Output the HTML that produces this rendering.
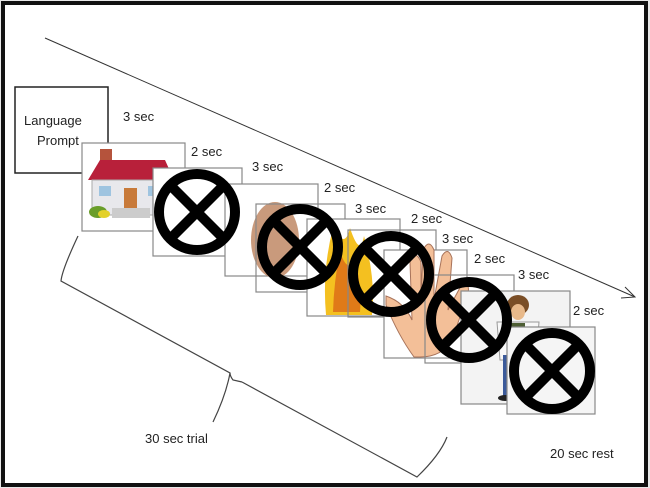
<!DOCTYPE html>
<html><head><meta charset="utf-8"><style>
html,body{margin:0;padding:0;background:#fff;}
svg{display:block;}
text{font-family:"Liberation Sans",sans-serif;font-size:13px;fill:#222;}
</style></head><body>
<svg width="650" height="488" viewBox="0 0 650 488" xmlns="http://www.w3.org/2000/svg">
<rect x="0" y="0" width="650" height="488" fill="#e8e8e8"/>
<rect x="3" y="3" width="643" height="482" fill="#fff" stroke="#111" stroke-width="4"/>
<line x1="45" y1="38" x2="635" y2="297" stroke="#333" stroke-width="1"/>
<polyline points="625,287 635,297 621,298" fill="none" stroke="#333" stroke-width="1"/>
<path d="M78,236 Q62,270 61,281 L230,373 Q226,395 213,422 M242,382 L417,477 Q440,455 447,437" fill="none" stroke="#444" stroke-width="1.2"/>
<path d="M230,373 Q230,376 233,380 L242,382" fill="none" stroke="#444" stroke-width="1.2"/>
<rect x="15" y="87" width="93" height="86" fill="#fff" stroke="#222" stroke-width="1.5"/>
<text x="24" y="125" font-size="14">Language</text>
<text x="37" y="145" font-size="14">Prompt</text>
<rect x="82" y="143" width="103" height="88" fill="#fff" stroke="#888" stroke-width="1.2"/>
<rect x="100" y="149" width="12" height="12" fill="#b5533c"/>
<polygon points="88,180 100,160 165,160 174,180" fill="#b8203a"/>
<rect x="92" y="180" width="72" height="35" fill="#e8e8ec" stroke="#aaa"/>
<rect x="124" y="188" width="13" height="20" fill="#c87a3a"/>
<rect x="99" y="186" width="12" height="10" fill="#9fc4e0"/>
<rect x="148" y="186" width="12" height="10" fill="#9fc4e0"/>
<rect x="112" y="208" width="38" height="10" fill="#ccc"/>
<ellipse cx="98" cy="212" rx="9" ry="6" fill="#6a9e2a"/>
<ellipse cx="104" cy="214" rx="6" ry="4" fill="#e3d12a"/>
<rect x="153" y="168" width="89" height="88" fill="#fff" stroke="#888" stroke-width="1.2"/>
<rect x="225" y="184" width="93" height="92" fill="#fff" stroke="#888" stroke-width="1.2"/>
<ellipse cx="275" cy="240" rx="24" ry="38" fill="#c99a7c"/>
<rect x="256" y="204" width="89" height="88" fill="none" stroke="#888" stroke-width="1.2"/>
<rect x="307" y="219" width="93" height="97" fill="#fff" stroke="#888" stroke-width="1.2"/>
<path d="M326,315 Q322,270 333,228 Q345,250 350,228 Q360,258 364,236 Q376,280 372,315 Z" fill="#f4c020"/>
<path d="M333,312 Q334,280 340,252 Q348,275 355,258 Q362,290 360,312 Z" fill="#e07a18"/>
<rect x="348" y="230" width="88" height="87" fill="none" stroke="#888" stroke-width="1.2"/>
<rect x="384" y="250" width="83" height="108" fill="#fff" stroke="#888" stroke-width="1.2"/>
<path d="M386,296 Q404,302 412,320 L410,262 Q415,248 421,262 L421,300 L423,250 Q429,238 434,250 L434,300 L442,256 Q448,246 452,258 L448,310 L463,282 Q470,282 468,294 L452,340 Q442,357 420,357 L414,357 Q398,335 386,305 Z" fill="#f3bf98" stroke="#a8735a" stroke-width="1"/>
<rect x="425" y="275" width="89" height="88" fill="none" stroke="#888" stroke-width="1.2"/>
<rect x="461" y="291" width="109" height="113" fill="#f3f3f3" stroke="#888" stroke-width="1.2"/>
<ellipse cx="518" cy="305" rx="11" ry="10" fill="#7a4e26"/>
<ellipse cx="518" cy="312" rx="7" ry="8" fill="#e8b98a"/>
<path d="M497,322 L539,322 L536,360 L500,360 Z" fill="#f8f8f8" stroke="#999"/>
<rect x="511" y="323" width="14" height="36" fill="#4d5e34"/>
<path d="M503,355 L533,355 L530,398 L520,398 L518,370 L514,398 L503,396 Z" fill="#3b5a9a"/>
<ellipse cx="505" cy="398" rx="7" ry="3" fill="#222"/>
<rect x="507" y="327" width="88" height="87" fill="#f5f5f5" stroke="#888" stroke-width="1.2"/>
<g fill="none" stroke="#000" stroke-width="10">
<circle cx="197" cy="212" r="38"/><line x1="170" y1="185" x2="224" y2="239"/><line x1="224" y1="185" x2="170" y2="239"/>
<circle cx="300" cy="247" r="38"/><line x1="273" y1="220" x2="327" y2="274"/><line x1="327" y1="220" x2="273" y2="274"/>
<circle cx="391" cy="274" r="38"/><line x1="364" y1="247" x2="418" y2="301"/><line x1="418" y1="247" x2="364" y2="301"/>
<circle cx="469" cy="320" r="38"/><line x1="442" y1="293" x2="496" y2="347"/><line x1="496" y1="293" x2="442" y2="347"/>
<circle cx="552" cy="371" r="38"/><line x1="525" y1="344" x2="579" y2="398"/><line x1="579" y1="344" x2="525" y2="398"/>
</g>
<text x="123" y="121">3 sec</text>
<text x="191" y="156">2 sec</text>
<text x="252" y="171">3 sec</text>
<text x="324" y="192">2 sec</text>
<text x="355" y="213">3 sec</text>
<text x="411" y="223">2 sec</text>
<text x="442" y="243">3 sec</text>
<text x="474" y="263">2 sec</text>
<text x="518" y="279">3 sec</text>
<text x="573" y="315">2 sec</text>
<text x="145" y="443">30 sec trial</text>
<text x="550" y="458">20 sec rest</text>
</svg>
</body></html>
